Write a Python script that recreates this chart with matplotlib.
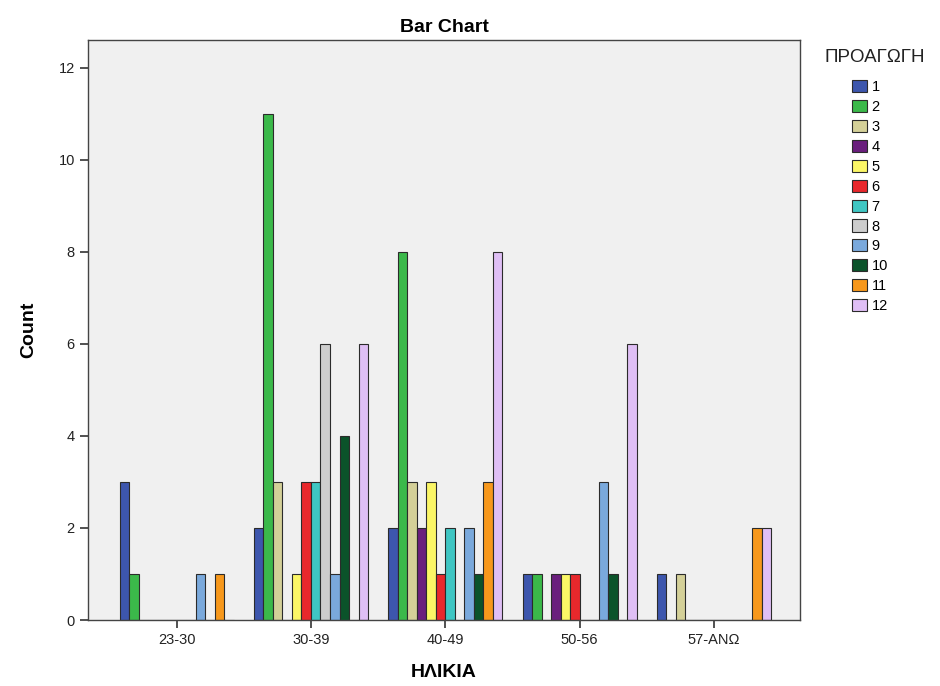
import numpy as np
import matplotlib.pyplot as plt

plt.rcParams['font.family'] = ['Liberation Sans', 'DejaVu Sans']

# Age groups on the x axis
age_groups = ['23-30', '30-39', '40-49', '50-56', '57-ΑΝΩ']

# Counts per promotion level (1..12), one value per age group
counts = {
    '1':  [3, 2, 2, 1, 1],
    '2':  [1, 11, 8, 1, 0],
    '3':  [0, 3, 3, 0, 1],
    '4':  [0, 0, 2, 1, 0],
    '5':  [0, 1, 3, 1, 0],
    '6':  [0, 3, 1, 1, 0],
    '7':  [0, 3, 2, 0, 0],
    '8':  [0, 6, 0, 0, 0],
    '9':  [1, 1, 2, 3, 0],
    '10': [0, 4, 1, 1, 0],
    '11': [1, 0, 3, 0, 2],
    '12': [0, 6, 8, 6, 2],
}

colors = ['#3d56ad', '#3bb94a', '#d4d098', '#6a1f7d', '#fbf666', '#e8282c',
          '#3fc6c3', '#cdcdcd', '#7aa9dc', '#0b532a', '#f7981c', '#dfbff5']

fig = plt.figure(figsize=(9.4, 6.86), dpi=100)
ax = fig.add_axes([0.0936, 0.0962, 0.7574, 0.8456])
ax.set_facecolor('#f0f0f0')

x = np.arange(len(age_groups))
n = len(counts)
w = 0.85 / n
for i, (name, vals) in enumerate(counts.items()):
    offs = (i - (n - 1) / 2) * w
    ax.bar(x + offs, vals, width=w, color=colors[i], edgecolor='#2b2b2b',
           linewidth=0.8, label=name)

ax.set_xlim(-0.66, 4.64)
ax.set_ylim(0, 12.6)
ax.set_yticks(range(0, 13, 2))
ax.set_xticks(x)
ax.set_xticklabels(age_groups)
ax.tick_params(axis='both', labelsize=10.5, direction='out', length=6,
               width=1.2, color='#333333', labelcolor='#222222')
for s in ax.spines.values():
    s.set_color('#444444')
    s.set_linewidth(1.0)

ax.set_title('Bar Chart', fontsize=14, fontweight='bold', pad=6)
ax.set_ylabel('Count', fontsize=14, fontweight='bold', labelpad=15)
ax.set_xlabel('ΗΛΙΚΙΑ', fontsize=14, fontweight='bold', labelpad=12)

# legend: title drawn separately, entries in a narrow column below it
fig.text(875 / 940, 1 - 58 / 686, 'ΠΡΟΑΓΩΓΗ', fontsize=13.5, ha='center',
         va='center', color='#222222')
ax.legend(loc='upper left', bbox_to_anchor=(852 / 940, 1 - 80 / 686),
          bbox_transform=fig.transFigure, frameon=False, fontsize=10.5,
          handlelength=1.05, handleheight=0.9, handletextpad=0.3,
          labelspacing=0.4, borderaxespad=0, borderpad=0)

fig.savefig('out.png', dpi=100)
